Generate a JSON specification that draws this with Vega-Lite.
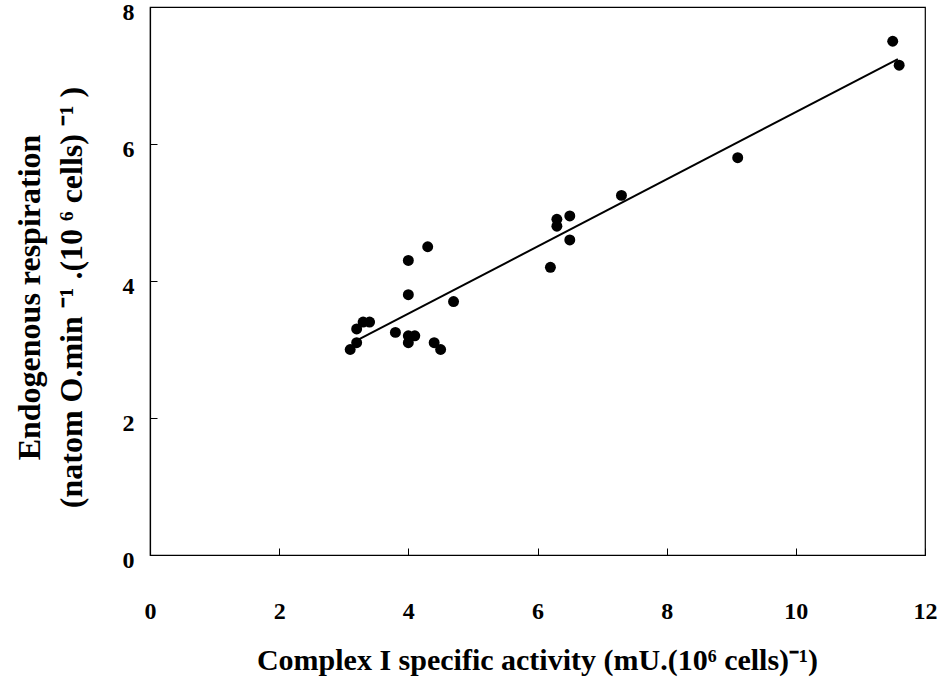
{
  "$schema": "https://vega.github.io/schema/vega-lite/v6.json",
  "width": 775,
  "height": 548,
  "autosize": {"type": "none"},
  "padding": {"left": 150, "top": 7, "right": 17, "bottom": 122},
  "background": "white",
  "config": {
    "view": {"stroke": "black", "strokeWidth": 1.2},
    "font": "Liberation Serif",
    "axis": {
      "grid": false,
      "domainColor": "black",
      "domainWidth": 1.2,
      "tickColor": "black",
      "tickWidth": 1,
      "labelFont": "Liberation Serif",
      "labelFontWeight": "bold",
      "labelFontSize": 24,
      "labelColor": "black",
      "titleFont": "Liberation Serif",
      "titleFontWeight": "bold",
      "titleColor": "black"
    }
  },
  "datasets": {
    "pts": [
      {"x": 3.1, "y": 3.0},
      {"x": 3.2, "y": 3.1},
      {"x": 3.2, "y": 3.3},
      {"x": 3.3, "y": 3.4},
      {"x": 3.4, "y": 3.4},
      {"x": 3.8, "y": 3.25},
      {"x": 4.0, "y": 3.8},
      {"x": 4.0, "y": 4.3},
      {"x": 4.3, "y": 4.5},
      {"x": 4.0, "y": 3.2},
      {"x": 4.0, "y": 3.1},
      {"x": 4.1, "y": 3.2},
      {"x": 4.4, "y": 3.1},
      {"x": 4.5, "y": 3.0},
      {"x": 4.7, "y": 3.7},
      {"x": 6.2, "y": 4.2},
      {"x": 6.3, "y": 4.9},
      {"x": 6.3, "y": 4.8},
      {"x": 6.5, "y": 4.95},
      {"x": 6.5, "y": 4.6},
      {"x": 7.3, "y": 5.25},
      {"x": 9.1, "y": 5.8},
      {"x": 11.5, "y": 7.5},
      {"x": 11.6, "y": 7.15}
    ],
    "fit": [
      {"x": 3.24, "y": 3.15},
      {"x": 11.58, "y": 7.24}
    ]
  },
  "layer": [
    {
      "data": {"name": "fit"},
      "mark": {"type": "line", "color": "black", "strokeWidth": 2},
      "encoding": {
        "x": {"field": "x", "type": "quantitative"},
        "y": {"field": "y", "type": "quantitative"}
      }
    },
    {
      "data": {"name": "pts"},
      "mark": {"type": "point", "filled": true, "color": "black", "opacity": 1, "size": 120, "shape": "circle"},
      "encoding": {
        "x": {
          "field": "x",
          "type": "quantitative",
          "scale": {"domain": [0, 12], "nice": false, "zero": false},
          "axis": {
            "values": [0, 2, 4, 6, 8, 10, 12],
            "format": "d",
            "tickSize": -7,
            "labelPadding": 51,
            "labelFlush": false,
            "labelOverlap": false,
            "title": "Complex I specific activity (mU.(10⁶ cells)⁻¹)",
            "titleFontSize": 30,
            "titleX": 387,
            "titleY": 105,
            "titleBaseline": "middle",
            "titleAlign": "center"
          }
        },
        "y": {
          "field": "y",
          "type": "quantitative",
          "scale": {"domain": [0, 8], "nice": false, "zero": false},
          "axis": {
            "values": [0, 2, 4, 6, 8],
            "format": "d",
            "tickSize": -7,
            "labelPadding": 23,
            "labelOffset": 5,
            "labelFlush": false,
            "labelOverlap": false,
            "title": ["Endogenous respiration", "(natom O.min ⁻¹ .(10 ⁶ cells) ⁻¹ )"],
            "titleFontSize": 32,
            "titleLineHeight": 42,
            "titleX": -121,
            "titleY": 290,
            "titleAngle": -90,
            "titleBaseline": "middle",
            "titleAlign": "center"
          }
        }
      }
    }
  ]
}
